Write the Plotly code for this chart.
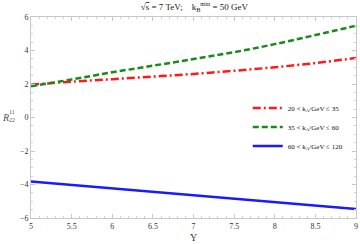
import plotly.graph_objects as go

Y = [5.0, 5.5, 6.0, 6.5, 7.0, 7.5, 8.0, 8.5, 9.0]
r_20_35 = [1.96, 2.14, 2.29, 2.44, 2.60, 2.79, 3.00, 3.25, 3.55]
r_35_60 = [1.86, 2.27, 2.70, 3.09, 3.49, 3.90, 4.38, 4.92, 5.48]
r_60_120 = [-3.82, -4.23, -4.64, -5.05, -5.46]
Y_blue = [5.0, 6.0, 7.0, 8.0, 9.0]
names = ["20 < k<sub>A</sub>/GeV ≤ 35", "35 < k<sub>A</sub>/GeV ≤ 60", "60 < k<sub>A</sub>/GeV ≤ 120"]
xticks = [5, 5.5, 6, 6.5, 7, 7.5, 8, 8.5, 9]
xticklabels = ["5", "5.5", "6", "6.5", "7", "7.5", "8", "8.5", "9"]
yticks = [-6, -4, -2, 0, 2, 4, 6]
yticklabels = ["\u22126", "\u22124", "\u22122", "0", "2", "4", "6"]

FONT = "Liberation Serif"
fig = go.Figure()
fig.add_trace(go.Scatter(x=Y, y=r_20_35, mode="lines", name=names[0],
                         line=dict(color="#ff1a1a", width=2.5, dash="8px,3px,2px,3px", shape="spline")))
fig.add_trace(go.Scatter(x=Y, y=r_35_60, mode="lines", name=names[1],
                         line=dict(color="#1a8a1a", width=2.5, dash="6px,3px", shape="spline")))
fig.add_trace(go.Scatter(x=Y_blue, y=r_60_120, mode="lines", name=names[2],
                         line=dict(color="#1a1aff", width=2.5)))

axis_common = dict(showline=True, mirror="ticks", linecolor="#c8c8c8", linewidth=1,
                   ticks="inside", ticklen=4, tickcolor="#c8c8c8", showgrid=False, zeroline=False,
                   tickfont=dict(family=FONT, size=8, color="#333333"))
fig.update_xaxes(range=[5, 9], tickvals=xticks, ticktext=xticklabels, ticklabeloverflow="allow",
                 minor=dict(ticks="inside", ticklen=2, tickcolor="#d0d0d0", dtick=0.1),
                 title=dict(text="Y", font=dict(family=FONT, size=10, color="#333333"), standoff=4),
                 **axis_common)
fig.update_yaxes(range=[-6, 6], tickvals=yticks, ticktext=yticklabels,
                 minor=dict(ticks="inside", ticklen=2, tickcolor="#d0d0d0", dtick=0.5),
                 **axis_common)

# y-axis label R^{11}_{22} with stacked indices
lab_font = dict(family=FONT, color="#555555")
fig.add_annotation(x=-0.0933, y=0.502, xref="paper", yref="paper", showarrow=False, borderpad=0,
                   text="<i>R</i>", xanchor="left", yanchor="middle", font=dict(size=10, **lab_font))
fig.add_annotation(x=-0.0703, y=0.525, xref="paper", yref="paper", showarrow=False, borderpad=0,
                   text="11", xanchor="left", yanchor="middle", font=dict(size=6, **lab_font))
fig.add_annotation(x=-0.0703, y=0.490, xref="paper", yref="paper", showarrow=False, borderpad=0,
                   text="22", xanchor="left", yanchor="middle", font=dict(size=6, **lab_font))

fig.update_layout(
    width=360, height=244,
    margin=dict(l=31, r=2, t=17, b=24),
    paper_bgcolor="white", plot_bgcolor="white",
    title=dict(text="\u221A<span style='text-decoration:overline'>s</span> = 7 TeV;&nbsp;&nbsp;&nbsp; k<sub>B</sub><sup>min</sup> = 50 GeV",
               x=0.54, xanchor="center", y=0.985, yanchor="top",
               font=dict(family=FONT, size=9, color="#222222")),
    legend=dict(x=0.667, y=0.619, xanchor="left", yanchor="top", bgcolor="rgba(0,0,0,0)",
                font=dict(family=FONT, size=7, color="#111111"), tracegroupgap=0,
                itemwidth=30),
    showlegend=True,
)
fig.write_html("out.html", config={"displayModeBar": False},
               post_script="document.body.style.margin='0px';")
